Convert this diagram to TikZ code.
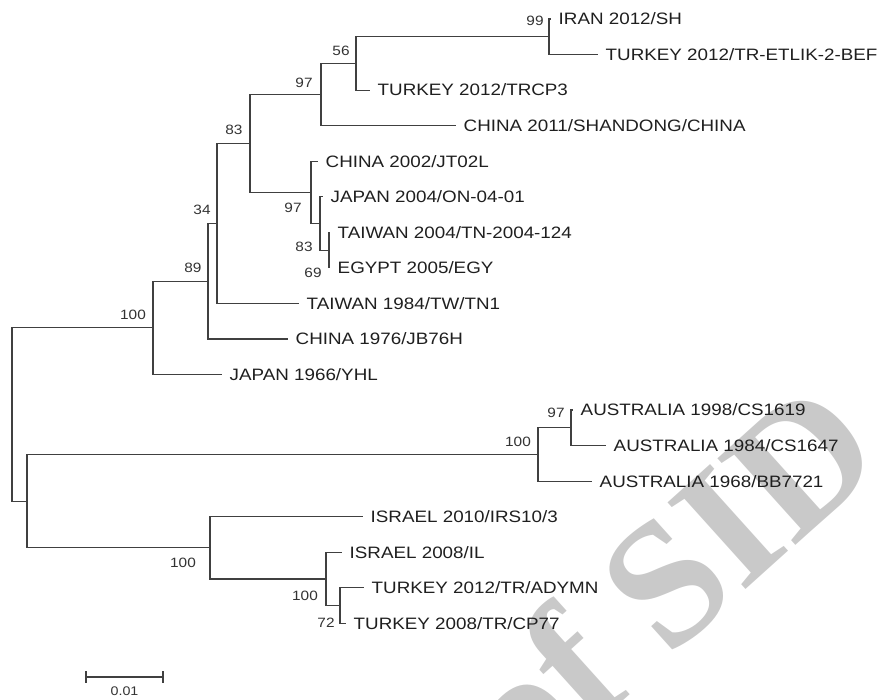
\documentclass[tikz,border=0pt]{standalone}
\usepackage{fontspec}
\setmainfont{Liberation Sans}[FakeStretch=1.14]
\newfontfamily\wmfont{Liberation Serif}
\begin{document}
\begin{tikzpicture}[x=1pt,y=-1pt,
  edge/.style={draw=black!75, line width=1.1pt},
  leaf/.style={anchor=west, inner xsep=7.5pt, inner ysep=0pt, text height=11.8pt, text depth=0pt, font=\fontsize{16.5}{18}\selectfont, text=black!88},
  boot/.style={inner sep=0pt, text height=9.7pt, text depth=0pt, font=\fontsize{13.5}{15}\selectfont, text=black!80},
  wmark/.style={rotate=42, anchor=base east, inner sep=0pt, text=black!21, font=\wmfont\bfseries\fontsize{178}{178}\selectfont}
]
\useasboundingbox (0,0) rectangle (881,700);
% watermark
\node[wmark] (wm) at (889,461) {of SID};
% leaves
\node[leaf] (L0) at (551,19) {IRAN 2012/SH};
\node[leaf] (L1) at (598,54.6) {TURKEY 2012/TR-ETLIK-2-BEF};
\node[leaf] (L2) at (370,90.1) {TURKEY 2012/TRCP3};
\node[leaf] (L3) at (456,125.7) {CHINA 2011/SHANDONG/CHINA};
\node[leaf] (L4) at (318,161.2) {CHINA 2002/JT02L};
\node[leaf] (L5) at (323,196.8) {JAPAN 2004/ON-04-01};
\node[leaf] (L6) at (330,232.3) {TAIWAN 2004/TN-2004-124};
\node[leaf] (L7) at (330,267.9) {EGYPT 2005/EGY};
\node[leaf] (L8) at (299,303.4) {TAIWAN 1984/TW/TN1};
\node[leaf] (L9) at (288,339) {CHINA 1976/JB76H};
\node[leaf] (L10) at (222,374.5) {JAPAN 1966/YHL};
\node[leaf] (L11) at (573,410) {AUSTRALIA 1998/CS1619};
\node[leaf] (L12) at (606,445.6) {AUSTRALIA 1984/CS1647};
\node[leaf] (L13) at (592,481.2) {AUSTRALIA 1968/BB7721};
\node[leaf] (L14) at (363,516.7) {ISRAEL 2010/IRS10/3};
\node[leaf] (L15) at (342,552.3) {ISRAEL 2008/IL};
\node[leaf] (L16) at (364,587.8) {TURKEY 2012/TR/ADYMN};
\node[leaf] (L17) at (346,623.4) {TURKEY 2008/TR/CP77};
% internal nodes
\coordinate (root) at (12,414.5);
\coordinate (nA) at (153,327.85);
\coordinate (n89) at (208,281.2);
\coordinate (n34) at (217,223.4);
\coordinate (n83) at (250,143.45);
\coordinate (n97a) at (321,94.6);
\coordinate (n56) at (356,63.45);
\coordinate (n99) at (549,36.8);
\coordinate (n97b) at (311,192.3);
\coordinate (n83b) at (320,223.45);
\coordinate (n69) at (329,250.1);
\coordinate (nL) at (27,501.15);
\coordinate (nA100) at (538,454.5);
\coordinate (nA97) at (571,427.8);
\coordinate (nI100) at (210,547.8);
\coordinate (nI100b) at (326,578.95);
\coordinate (n72) at (340,605.6);
% edges
\draw[edge] (root) |- (nA);
\draw[edge] (root) |- (nL);
\draw[edge] (nA) |- (n89);
\draw[edge] (nA) |- (L10.west);
\draw[edge] (n89) |- (n34);
\draw[edge] (n89) |- (L9.west);
\draw[edge] (n34) |- (n83);
\draw[edge] (n34) |- (L8.west);
\draw[edge] (n83) |- (n97a);
\draw[edge] (n83) |- (n97b);
\draw[edge] (n97a) |- (n56);
\draw[edge] (n97a) |- (L3.west);
\draw[edge] (n56) |- (n99);
\draw[edge] (n56) |- (L2.west);
\draw[edge] (n99) |- (L0.west);
\draw[edge] (n99) |- (L1.west);
\draw[edge] (n97b) |- (L4.west);
\draw[edge] (n97b) |- (n83b);
\draw[edge] (n83b) |- (L5.west);
\draw[edge] (n83b) |- (n69);
\draw[edge] (n69) |- (L6.west);
\draw[edge] (n69) |- (L7.west);
\draw[edge] (nL) |- (nA100);
\draw[edge] (nL) |- (nI100);
\draw[edge] (nA100) |- (nA97);
\draw[edge] (nA100) |- (L13.west);
\draw[edge] (nA97) |- (L11.west);
\draw[edge] (nA97) |- (L12.west);
\draw[edge] (nI100) |- (L14.west);
\draw[edge] (nI100) |- (nI100b);
\draw[edge] (nI100b) |- (L15.west);
\draw[edge] (nI100b) |- (n72);
\draw[edge] (n72) |- (L16.west);
\draw[edge] (n72) |- (L17.west);
% bootstrap values
\node[boot] (b99) at (535,21) {99};
\node[boot] (b56) at (341,51) {56};
\node[boot] (b97a) at (304,83) {97};
\node[boot] (b83) at (234,130) {83};
\node[boot] (b34) at (202,210) {34};
\node[boot] (b89) at (193,268) {89};
\node[boot] (b100a) at (133,315) {100};
\node[boot] (b97b) at (293,208) {97};
\node[boot] (b83b) at (304,247) {83};
\node[boot] (b69) at (313,273) {69};
\node[boot] (bA97) at (556,413) {97};
\node[boot] (bA100) at (518,442) {100};
\node[boot] (bI100) at (183,563) {100};
\node[boot] (bI100b) at (305,596) {100};
\node[boot] (b72) at (326,623) {72};
% scale bar
\coordinate (sbL) at (86,677);
\coordinate (sbR) at (163,677);
\draw[edge] (sbL) -- (sbR);
\draw[edge] ([yshift=6pt]sbL) -- ([yshift=-6pt]sbL);
\draw[edge] ([yshift=6pt]sbR) -- ([yshift=-6pt]sbR);
\node[boot, font=\fontsize{12.5}{14}\selectfont] (sbt) at (124.5,691) {0.01};
\end{tikzpicture}
\end{document}
